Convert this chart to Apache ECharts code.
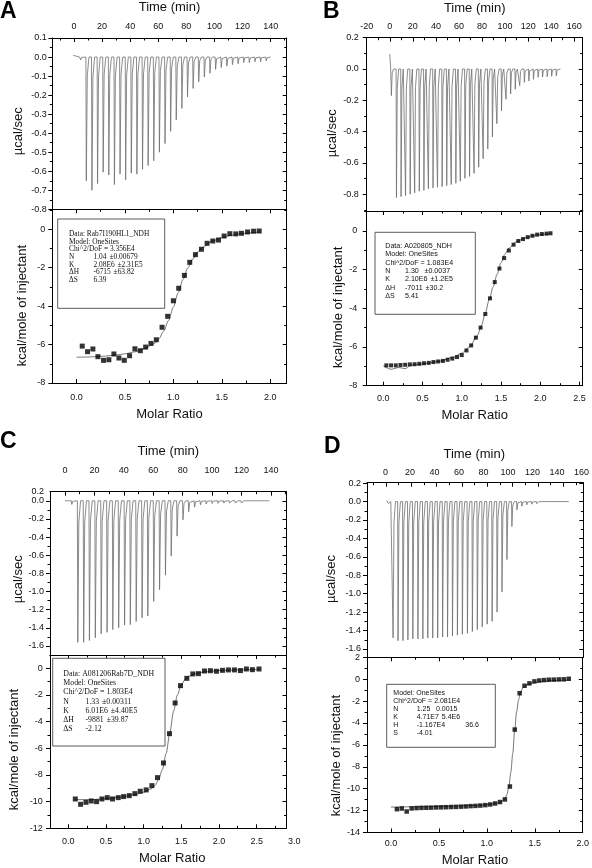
<!DOCTYPE html>
<html><head><meta charset="utf-8">
<script src="https://cdn.jsdelivr.net/npm/echarts@6/dist/echarts.min.js"></script>
<style>html,body{margin:0;padding:0;background:#fff}#c{width:592px;height:868px}</style>
</head><body><div id="c"></div><script>
// ================= DATA =================
// ---- Panel A ----
const aLead = [[-0.5, 0.009], [4.0, 0.0]];
const aInjTimes = [4.5, 8.5, 12.5, 16.5, 20.5, 24.5, 28.5, 32.5, 36.5, 40.5, 44.5, 48.5, 52.5, 56.5, 60.5, 64.5, 68.5, 72.5, 76.5, 80.5, 84.5, 88.5, 92.5, 96.5, 100.5, 104.5, 108.5, 112.5, 116.5, 120.5, 124.5, 128.5, 132.5, 136.5];
const aPeaks = [-0.015, -0.65, -0.70, -0.665, -0.605, -0.62, -0.67, -0.615, -0.645, -0.61, -0.615, -0.59, -0.57, -0.545, -0.50, -0.455, -0.39, -0.33, -0.27, -0.21, -0.165, -0.13, -0.105, -0.085, -0.065, -0.055, -0.048, -0.04, -0.035, -0.03, -0.03, -0.025, -0.025, -0.02];
const aEnd = 140;
const aRatio = [0.059, 0.114, 0.169, 0.221, 0.279, 0.334, 0.386, 0.438, 0.493, 0.548, 0.603, 0.659, 0.714, 0.769, 0.824, 0.883, 0.941, 1.000, 1.055, 1.114, 1.169, 1.228, 1.290, 1.348, 1.407, 1.466, 1.524, 1.583, 1.645, 1.703, 1.766, 1.828, 1.886];
const aHeat = [-6.08, -6.37, -6.23, -6.63, -6.82, -6.79, -6.49, -6.70, -6.82, -6.58, -6.22, -6.32, -6.13, -5.94, -5.75, -5.10, -4.53, -3.72, -3.07, -2.40, -1.72, -1.32, -1.04, -0.73, -0.61, -0.56, -0.35, -0.23, -0.24, -0.21, -0.14, -0.10, -0.09];
const aFit = [[0.0,-6.66],[0.1,-6.65],[0.2,-6.63],[0.3,-6.6],[0.4,-6.55],[0.5,-6.48],[0.6,-6.38],[0.7,-6.22],[0.8,-5.95],[0.85,-5.7],[0.9,-5.3],[0.95,-4.75],[1.0,-4.05],[1.05,-3.3],[1.1,-2.6],[1.15,-2.0],[1.2,-1.55],[1.25,-1.2],[1.3,-0.95],[1.4,-0.62],[1.5,-0.43],[1.6,-0.31],[1.7,-0.23],[1.8,-0.18],[1.9,-0.14]];
const aBox = [['Data: Rab7I190HL1_NDH'],['Model: OneSites'],['Chi^2/DoF = 3.356E4'],['N','1.04','±0.00679'],['K','2.08E6','±2.31E5'],['ΔH','-6715','±63.82'],['ΔS','6.39']];

// ---- Panel B ----
const bLead = [[0, 0.095], [0.8, 0.0]];
const bInjTimes = [1.1, 5.5, 9.5, 13.4, 17.4, 21.3, 25.3, 29.3, 33.2, 37.2, 41.1, 45.1, 49.1, 53.0, 57.0, 60.9, 64.9, 68.9, 72.8, 76.8, 80.7, 84.7, 88.7, 92.6, 96.6, 100.5, 104.5, 108.5, 112.4, 116.4, 120.3, 124.3, 128.3, 132.2, 136.2, 140.1, 144.1];
const bPeaks = [-0.17, -0.821, -0.815, -0.808, -0.800, -0.791, -0.781, -0.775, -0.766, -0.760, -0.755, -0.751, -0.745, -0.738, -0.730, -0.717, -0.698, -0.686, -0.667, -0.627, -0.573, -0.510, -0.434, -0.349, -0.267, -0.193, -0.159, -0.129, -0.106, -0.085, -0.076, -0.066, -0.053, -0.051, -0.049, -0.046, -0.044];
const bEnd = 148;
const bRatio = [0.04, 0.10, 0.16, 0.22, 0.28, 0.34, 0.40, 0.46, 0.52, 0.58, 0.64, 0.70, 0.76, 0.82, 0.88, 0.94, 1.00, 1.06, 1.12, 1.18, 1.24, 1.30, 1.36, 1.42, 1.48, 1.54, 1.60, 1.66, 1.72, 1.78, 1.84, 1.90, 1.96, 2.02, 2.08, 2.13];
const bHeat = [-6.95, -6.95, -6.95, -6.93, -6.92, -6.90, -6.89, -6.87, -6.84, -6.82, -6.78, -6.75, -6.72, -6.66, -6.60, -6.52, -6.42, -6.18, -5.92, -5.52, -5.00, -4.30, -3.49, -2.65, -1.95, -1.41, -1.02, -0.72, -0.53, -0.43, -0.33, -0.26, -0.20, -0.17, -0.15, -0.13];
const bFit = [[0.0,-6.97],[0.1,-7.15],[0.2,-7.06],[0.28,-7.12],[0.35,-6.95],[0.5,-6.88],[0.7,-6.75],[0.9,-6.52],[1.0,-6.32],[1.1,-6.0],[1.2,-5.4],[1.25,-4.9],[1.3,-4.25],[1.35,-3.55],[1.4,-2.9],[1.45,-2.25],[1.5,-1.65],[1.55,-1.2],[1.6,-0.9],[1.7,-0.55],[1.8,-0.38],[1.9,-0.27],[2.0,-0.2],[2.13,-0.14]];
const bBox = [['Data: A020805_NDH'],['Model: OneSites'],['Chi^2/DoF = 1.083E4'],['N','1.30','±0.0037'],['K','2.10E6','±1.2E5'],['ΔH','-7011','±30.2'],['ΔS','5.41']];

// ---- Panel C ----
const cLead = [[0, 0.0]];
const cInjTimes = [4.3, 8.4, 12.4, 16.3, 20.3, 24.3, 28.3, 32.2, 36.2, 40.2, 44.1, 48.1, 52.1, 56.0, 60.0, 64.0, 68.0, 71.9, 75.9, 79.9, 83.8, 87.8, 91.8, 95.7, 99.7, 103.7, 107.7, 111.6, 115.6, 119.6, 123.5, 127.5, 131.5, 135.4];
const cPeaks = [-0.04, -1.56, -1.56, -1.54, -1.51, -1.465, -1.45, -1.42, -1.40, -1.37, -1.365, -1.33, -1.29, -1.27, -1.11, -0.98, -0.82, -0.61, -0.39, -0.21, -0.12, -0.07, -0.045, -0.035, -0.03, -0.028, -0.026, -0.025, -0.024, -0.023, -0.022, -0.022, -0.021, -0.02];
const cEnd = 139;
const cRatio = [0.093, 0.164, 0.235, 0.305, 0.376, 0.447, 0.518, 0.588, 0.664, 0.735, 0.810, 0.885, 0.956, 1.035, 1.111, 1.186, 1.265, 1.345, 1.420, 1.491, 1.575, 1.655, 1.730, 1.810, 1.889, 1.969, 2.049, 2.128, 2.208, 2.288, 2.367, 2.447, 2.535];
const cHeat = [-9.8, -10.2, -10.05, -9.95, -10.0, -9.8, -9.7, -9.8, -9.7, -9.62, -9.55, -9.4, -9.22, -9.12, -8.8, -8.2, -7.1, -4.9, -2.6, -1.3, -0.75, -0.42, -0.4, -0.2, -0.18, -0.22, -0.15, -0.12, -0.12, -0.17, -0.05, -0.1, -0.05];
const cFit = [[0.09,-9.85],[0.3,-9.85],[0.5,-9.78],[0.7,-9.65],[0.9,-9.45],[1.0,-9.3],[1.1,-9.05],[1.15,-8.8],[1.2,-8.35],[1.25,-7.6],[1.3,-6.4],[1.35,-4.8],[1.4,-3.2],[1.45,-2.0],[1.5,-1.25],[1.55,-0.85],[1.6,-0.6],[1.7,-0.38],[1.8,-0.27],[2.0,-0.17],[2.3,-0.11],[2.54,-0.08]];
const cBox = [['Data: A081206Rab7D_NDH'],['Model: OneSites'],['Chi^2/DoF = 1.803E4'],['N','1.33','±0.00311'],['K','6.01E6','±4.40E5'],['ΔH','-9881','±39.87'],['ΔS','-2.12']];

// ---- Panel D ----
const dLead = [[0.5, 0.012], [1.2, 0.0]];
const dInjTimes = [1.6, 5.3, 9.2, 13.1, 17.0, 20.9, 24.9, 28.8, 32.7, 36.6, 40.5, 44.4, 48.3, 52.2, 56.1, 60.0, 64.0, 67.9, 71.8, 75.7, 79.6, 83.5, 87.4, 91.3, 95.2, 99.1, 103.1, 107.0, 110.9, 114.8, 118.7, 122.6, 126.5, 130.4, 134.3, 138.2, 142.1];
const dPeaks = [-0.02, -1.48, -1.51, -1.51, -1.50, -1.49, -1.49, -1.49, -1.48, -1.48, -1.48, -1.47, -1.47, -1.46, -1.45, -1.44, -1.43, -1.41, -1.39, -1.36, -1.33, -1.30, -1.20, -0.98, -0.63, -0.27, -0.09, -0.05, -0.035, -0.028, -0.022, -0.02, -0.018, -0.016, -0.015, -0.014, -0.013];
const dEnd = 144;
const dRatio = [0.062, 0.113, 0.164, 0.216, 0.267, 0.318, 0.369, 0.420, 0.472, 0.523, 0.574, 0.625, 0.676, 0.728, 0.779, 0.830, 0.881, 0.932, 0.984, 1.035, 1.086, 1.137, 1.188, 1.240, 1.291, 1.342, 1.393, 1.444, 1.496, 1.547, 1.598, 1.649, 1.700, 1.752, 1.803, 1.854];
const dHeat = [-11.87, -11.81, -12.08, -11.80, -11.77, -11.75, -11.74, -11.73, -11.71, -11.70, -11.69, -11.67, -11.66, -11.64, -11.62, -11.59, -11.57, -11.54, -11.50, -11.44, -11.35, -11.22, -10.98, -9.80, -4.60, -1.28, -0.60, -0.38, -0.20, -0.12, -0.08, -0.05, -0.04, -0.02, -0.01, 0.04];
const dFit = [[0.0,-11.68],[0.3,-11.65],[0.6,-11.6],[0.9,-11.53],[1.0,-11.47],[1.1,-11.35],[1.15,-11.2],[1.19,-10.9],[1.21,-10.5],[1.23,-9.8],[1.25,-8.5],[1.27,-6.8],[1.29,-4.7],[1.31,-3.0],[1.33,-1.9],[1.35,-1.2],[1.38,-0.75],[1.42,-0.5],[1.5,-0.3],[1.6,-0.18],[1.7,-0.12],[1.86,-0.08]];
const dBox = [['Model: OneSites'],['Chi^2/DoF = 2.081E4'],['N','1.25','0.0015'],['K','4.71E7','5.4E6'],['H','-1.167E4','','36.6'],['S','-4.01']];

// ---- Tick values / labels ----
const timeTicksA = [0,20,40,60,80,100,120,140];
const timeLabelsA = ['0','20','40','60','80','100','120','140'];
const timeTicksB = [-20,0,20,40,60,80,100,120,140,160];
const timeLabelsB = ['-20','0','20','40','60','80','100','120','140','160'];
const timeTicksD = [0,20,40,60,80,100,120,140,160];
const timeLabelsD = ['0','20','40','60','80','100','120','140','160'];
const aTopYTicks = [0.1,0.0,-0.1,-0.2,-0.3,-0.4,-0.5,-0.6,-0.7,-0.8];
const aTopYLabels = ['0.1','0.0','-0.1','-0.2','-0.3','-0.4','-0.5','-0.6','-0.7','-0.8'];
const bTopYTicks = [0.2,0.0,-0.2,-0.4,-0.6,-0.8];
const bTopYLabels = ['0.2','0.0','-0.2','-0.4','-0.6','-0.8'];
const cTopYTicks = [0.0,-0.2,-0.4,-0.6,-0.8,-1.0,-1.2,-1.4,-1.6];
const cTopYLabelVals = [0.1,0.0,-0.2,-0.4,-0.6,-0.8,-1.0,-1.2,-1.4,-1.6];
const cTopYLabels = ['0.2','0.0','-0.2','-0.4','-0.6','-0.8','-1.0','-1.2','-1.4','-1.6'];
const dTopYTicks = [0.2,0.0,-0.2,-0.4,-0.6,-0.8,-1.0,-1.2,-1.4,-1.6];
const dTopYLabels = ['0.2','0.0','-0.2','-0.4','-0.6','-0.8','-1.0','-1.2','-1.4','-1.6'];
const ratioTicks20 = [0,0.5,1.0,1.5,2.0];
const ratioLabels20 = ['0.0','0.5','1.0','1.5','2.0'];
const ratioTicks25 = [0,0.5,1.0,1.5,2.0,2.5];
const ratioLabels25 = ['0.0','0.5','1.0','1.5','2.0','2.5'];
const ratioTicks30 = [0,0.5,1.0,1.5,2.0,2.5,3.0];
const ratioLabels30 = ['0.0','0.5','1.0','1.5','2.0','2.5','3.0'];
const heatTicks8 = [0,-2,-4,-6,-8];
const heatLabels8 = ['0','-2','-4','-6','-8'];
const heatTicks12 = [0,-2,-4,-6,-8,-10,-12];
const heatLabels12 = ['0','-2','-4','-6','-8','-10','-12'];
const heatTicks14 = [2,0,-2,-4,-6,-8,-10,-12,-14];
const heatLabels14 = ['2','0','-2','-4','-6','-8','-10','-12','-14'];

// ================= BUILD =================
const FONT = 'Liberation Sans';
const option = {animation:false, backgroundColor:'#fff', grid:[], xAxis:[], yAxis:[], series:[], graphic:[]};
const measureCtx = document.createElement('canvas').getContext('2d');
function textWidth(s, font){ measureCtx.font = font; return measureCtx.measureText(s).width; }

function addGrid(r){ option.grid.push({left:r[0], top:r[1], width:r[2]-r[0], height:r[3]-r[1]}); return option.grid.length-1; }
function mids(first, step, min, max){
  step = Math.abs(step); const out=[];
  let k = Math.ceil((min - first - step/2)/step);
  for(;;k++){ const v = first + step/2 + k*step; if (v > max + 1e-9) break; if (v > min + 1e-9 && v < max - 1e-9) out.push(+v.toFixed(6)); }
  return out;
}
function axis(kind, g, pos, min, max, o){
  const ax = {type:'value', gridIndex:g, position:pos, min:min, max:max, z:5,
    splitLine:{show:false}, splitArea:{show:false}, minorTick:{show:false},
    axisLine:{show:!!o.line, onZero:false, lineStyle:{color:'#000', width:1}},
    axisTick:{show:!!o.ticks, inside:!!o.inside, length:o.len||4, lineStyle:{color:'#000', width:1}},
    axisLabel:{show:false}};
  if (o.hidden) ax.show = false;
  if (o.ticks) ax.axisTick.customValues = o.ticks;
  if (o.lv){
    const lv=o.lv, lt=o.lt;
    ax.axisLabel = {show:true, customValues:lv, margin:o.margin, color:'#111', fontSize:9, fontFamily:FONT,
      formatter:function(v){ const i = lv.findIndex(x=>Math.abs(x-v)<1e-7); return i<0?'':lt[i]; }};
  }
  if (o.name){
    ax.name = o.name; ax.nameLocation='middle'; ax.nameGap=o.nameGap;
    ax.nameTextStyle = {color:'#111', fontSize:13, fontFamily:FONT, padding:o.namePad||0};
  }
  option[kind].push(ax); return option[kind].length-1;
}
function plot(rect, xr, yr, X, Y, xPos){
  const g = addGrid(rect);
  const xStep = X.ticks[1]-X.ticks[0];
  const xMinor = mids(X.ticks[0], xStep, xr[0], xr[1]);
  let xi;
  if (X.ext){
    xi = axis('xAxis', g, xPos, xr[0], xr[1], {line:true, ticks:X.ticks, inside:true});
    const g2 = addGrid([rect[0], rect[1], X.ext.right, rect[3]]);
    axis('xAxis', g2, xPos, xr[0], X.ext.max, {lv:X.lv, lt:X.lt, margin:X.margin, name:X.name, nameGap:X.gap});
    axis('yAxis', g2, 'left', 0, 1, {hidden:true});
  } else {
    xi = axis('xAxis', g, xPos, xr[0], xr[1], {line:true, ticks:X.ticks, inside:true, lv:X.lv, lt:X.lt, margin:X.margin, name:X.name, nameGap:X.gap});
  }
  axis('xAxis', g, xPos, xr[0], xr[1], {ticks:xMinor, inside:true, len:2.5});
  if (xPos==='bottom'){
    axis('xAxis', g, 'top', xr[0], xr[1], {line:true, ticks:X.ticks, inside:true});
    axis('xAxis', g, 'top', xr[0], xr[1], {ticks:xMinor, inside:true, len:2.5});
  } else {
    axis('xAxis', g, 'bottom', xr[0], xr[1], {line:true});
  }
  const yStep = Y.ticks[1]-Y.ticks[0];
  const yMinor = mids(Y.ticks[0], yStep, yr[0], yr[1]);
  const yi = axis('yAxis', g, 'left', yr[0], yr[1], {line:true, ticks:Y.ticks, inside:false, lv:Y.lv, lt:Y.lt, margin:Y.margin, name:Y.name, nameGap:Y.gap, namePad:[0, 2*Y.shift, 0, 0]});
  axis('yAxis', g, 'left', yr[0], yr[1], {ticks:yMinor, inside:false, len:2.5});
  axis('yAxis', g, 'right', yr[0], yr[1], {line:true, ticks:Y.ticks, inside:true});
  axis('yAxis', g, 'right', yr[0], yr[1], {ticks:yMinor, inside:true, len:2.5});
  return {xi, yi};
}
function thermogram(lead, times, peaks, end){
  const d = lead.map(p=>p.slice());
  times.forEach((t,i)=>{ const p=peaks[i]; d.push([t,0],[t+0.3,p],[t+1.0,p*0.15],[t+2.2,0]); });
  d.push([end,0]);
  return d;
}
function addThermo(ax, data){
  option.series.push({type:'line', xAxisIndex:ax.xi, yAxisIndex:ax.yi, data:data, symbol:'none', showSymbol:false, silent:true,
    lineStyle:{color:'#6e6e6e', width:0.8}, z:3});
}
function addIsotherm(ax, xs, ys, fit, size){
  option.series.push({type:'line', xAxisIndex:ax.xi, yAxisIndex:ax.yi, data:fit, symbol:'none', showSymbol:false, silent:true,
    smooth:0.3, smoothMonotone:'x', lineStyle:{color:'#555', width:0.8}, z:3});
  option.series.push({type:'scatter', xAxisIndex:ax.xi, yAxisIndex:ax.yi, data:xs.map((x,i)=>[x,ys[i]]), symbol:'rect', symbolSize:size, silent:true,
    itemStyle:{color:'#000'}, z:4});
}
function textBox(rect, rows, font, y0, dy, cols){
  option.graphic.push({type:'rect', shape:{x:rect[0], y:rect[1], width:rect[2], height:rect[3]}, style:{fill:'#fff', stroke:'#333', lineWidth:0.8}, z:20});
  const gap = textWidth(' ', font) + 1;
  rows.forEach((r,i)=>{
    let prevEnd = -1e9;
    r.forEach((s,j)=>{
      if(!s) return;
      const x = Math.max(cols[j], prevEnd + gap);
      prevEnd = x + textWidth(s, font);
      option.graphic.push({type:'text', x:x, y:y0+i*dy, style:{text:s, font:font, fill:'#111', verticalAlign:'middle'}, z:21});
    });
  });
}
function letter(s, x, y){ option.graphic.push({type:'text', x:x, y:y, style:{text:s, font:'bold 23px "Liberation Sans"', fill:'#000', verticalAlign:'top'}, z:21}); }

// ---- Panel A ----
let ax = plot([52.3,37.7,286.7,209.3], [-15.4,151.4], [-0.8,0.1],
  {ticks:timeTicksA, lv:timeTicksA, lt:timeLabelsA, margin:7, name:'Time (min)', gap:24},
  {ticks:aTopYTicks, lv:aTopYTicks, lt:aTopYLabels, margin:5.5, name:'µcal/sec', gap:27, shift:7.5}, 'top');
addThermo(ax, thermogram(aLead, aInjTimes, aPeaks, aEnd));
ax = plot([52.3,209.3,286.7,383], [-0.25,2.17], [-8,1.04],
  {ticks:ratioTicks20, lv:ratioTicks20, lt:ratioLabels20, margin:10.5, name:'Molar Ratio', gap:24.5},
  {ticks:heatTicks8, lv:heatTicks8, lt:heatLabels8, margin:7, name:'kcal/mole of injectant', gap:23.5, shift:9.5}, 'bottom');
addIsotherm(ax, aRatio, aHeat, aFit, 5);
textBox([57.7,219,107,89.3], aBox, '7.4px "Liberation Serif"', 234.3, 7.6, [69, 93.5, 109.5]);

// ---- Panel B ----
ax = plot([366.7,37.7,582.7,211], [-20,167.3], [-0.907,0.2],
  {ticks:timeTicksB, lv:timeTicksB, lt:timeLabelsB, margin:7, name:'Time (min)', gap:23},
  {ticks:bTopYTicks, lv:bTopYTicks, lt:bTopYLabels, margin:8, name:'µcal/sec', gap:27, shift:9}, 'top');
addThermo(ax, thermogram(bLead, bInjTimes, bPeaks, bEnd));
ax = plot([366.7,211,582.7,385.7], [-0.21,2.54], [-8,1.02],
  {ticks:ratioTicks25, lv:ratioTicks25, lt:ratioLabels25, margin:8, name:'Molar Ratio', gap:23.5},
  {ticks:heatTicks8, lv:heatTicks8, lt:heatLabels8, margin:9.5, name:'kcal/mole of injectant', gap:22, shift:9}, 'bottom');
addIsotherm(ax, bRatio, bHeat, bFit, 4);
textBox([375,232.3,100.3,82], bBox, '7.1px "Liberation Sans"', 246, 8.33, [385.3, 405, 424.5]);

// ---- Panel C ----
ax = plot([50,491.7,286.5,655], [-10.2,150.6], [-1.7,0.1],
  {ticks:timeTicksA, lv:timeTicksA, lt:timeLabelsA, margin:16.5, name:'Time (min)', gap:33.5},
  {ticks:cTopYTicks, lv:cTopYLabelVals, lt:cTopYLabels, margin:6, name:'µcal/sec', gap:25, shift:6}, 'top');
addThermo(ax, thermogram(cLead, cInjTimes, cPeaks, cEnd));
ax = plot([50,655,286.5,828.3], [-0.243,2.9], [-12,1],
  {ticks:ratioTicks25, lv:ratioTicks30, lt:ratioLabels30, margin:9, name:'Molar Ratio', gap:24, ext:{max:3.0, right:294.3}},
  {ticks:heatTicks12, lv:heatTicks12, lt:heatLabels12, margin:7.3, name:'kcal/mole of injectant', gap:29, shift:8}, 'bottom');
addIsotherm(ax, cRatio, cHeat, cFit, 5);
textBox([52.7,658.3,112.3,87.7], cBox, '7.8px "Liberation Serif"', 673.7, 9.27, [63.3, 85.5, 101]);

// ---- Panel D ----
ax = plot([367,482.7,583.3,657.3], [-15,155.8], [-1.69,0.205],
  {ticks:timeTicksA, lv:timeTicksD, lt:timeLabelsD, margin:5.5, name:'Time (min)', gap:22, ext:{max:160, right:588.6}},
  {ticks:dTopYTicks, lv:dTopYTicks, lt:dTopYLabels, margin:6, name:'µcal/sec', gap:29, shift:9}, 'top');
addThermo(ax, thermogram(dLead, dInjTimes, dPeaks, dEnd));
ax = plot([367,657.3,583.3,832.7], [-0.25,2.0], [-14,2],
  {ticks:ratioTicks20, lv:ratioTicks20, lt:ratioLabels20, margin:7, name:'Molar Ratio', gap:21.5},
  {ticks:heatTicks14, lv:heatTicks14, lt:heatLabels14, margin:7, name:'kcal/mole of injectant', gap:22.3, shift:10.7}, 'bottom');
addIsotherm(ax, dRatio, dHeat, dFit, 4.5);
textBox([386.7,684.3,108.6,63], dBox, '7px "Liberation Sans"', 693.3, 7.9, [393.3, 416.7, 436, 465.3]);

// ---- Panel letters ----
letter('A', 0, 0);
letter('B', 323, 0);
letter('C', 0, 430);
letter('D', 324, 435);

const chart = echarts.init(document.getElementById('c'), null, {renderer:'canvas', width:592, height:868});
chart.setOption(option);
</script></body></html>
